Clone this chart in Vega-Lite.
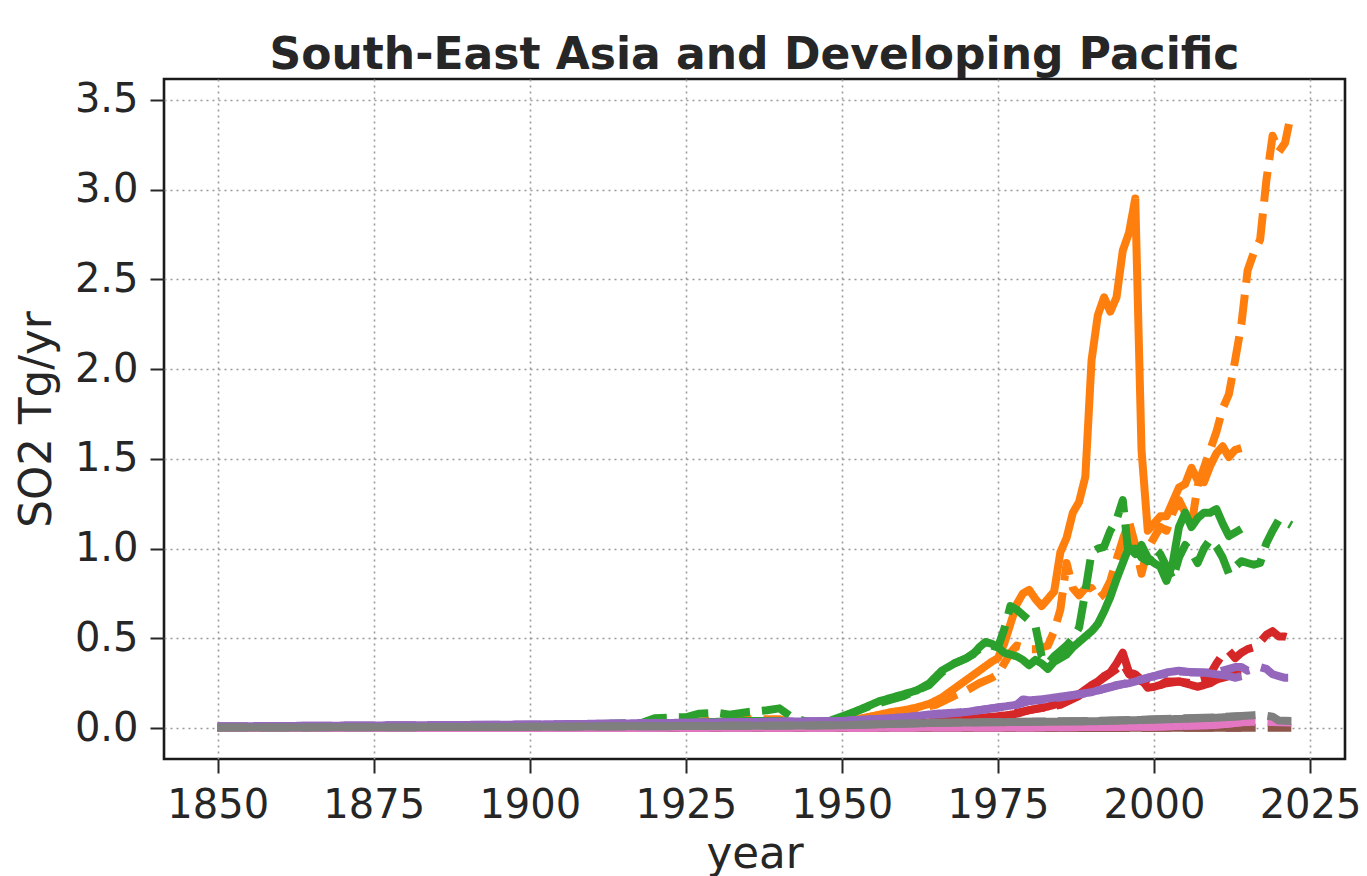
{
  "$schema": "https://vega.github.io/schema/vega-lite/v6.json",
  "width": 1181,
  "height": 680,
  "autosize": {"type": "none"},
  "padding": {"left": 164, "top": 79, "right": 22, "bottom": 117},
  "background": "white",
  "title": {
    "text": "South-East Asia and Developing Pacific",
    "font": "DejaVu Sans",
    "fontSize": 44,
    "fontWeight": "bold",
    "color": "#262626",
    "anchor": "middle",
    "baseline": "alphabetic",
    "offset": 15,
    "dy": 49
  },
  "config": {
    "view": {"stroke": "#1a1a1a", "strokeWidth": 2.6},
    "font": "DejaVu Sans"
  },
  "data": {
    "values": [
      {"sector":"Energy","version":"old","year":1850,"so2":0.003},
      {"sector":"Energy","version":"old","year":1875,"so2":0.005},
      {"sector":"Energy","version":"old","year":1900,"so2":0.008},
      {"sector":"Energy","version":"old","year":1910,"so2":0.01},
      {"sector":"Energy","version":"old","year":1920,"so2":0.015},
      {"sector":"Energy","version":"old","year":1930,"so2":0.025},
      {"sector":"Energy","version":"old","year":1940,"so2":0.03},
      {"sector":"Energy","version":"old","year":1945,"so2":0.02},
      {"sector":"Energy","version":"old","year":1950,"so2":0.03},
      {"sector":"Energy","version":"old","year":1952,"so2":0.045},
      {"sector":"Energy","version":"old","year":1954,"so2":0.06},
      {"sector":"Energy","version":"old","year":1956,"so2":0.075},
      {"sector":"Energy","version":"old","year":1958,"so2":0.09},
      {"sector":"Energy","version":"old","year":1960,"so2":0.1},
      {"sector":"Energy","version":"old","year":1962,"so2":0.115},
      {"sector":"Energy","version":"old","year":1964,"so2":0.135},
      {"sector":"Energy","version":"old","year":1966,"so2":0.17},
      {"sector":"Energy","version":"old","year":1968,"so2":0.22},
      {"sector":"Energy","version":"old","year":1970,"so2":0.27},
      {"sector":"Energy","version":"old","year":1972,"so2":0.32},
      {"sector":"Energy","version":"old","year":1974,"so2":0.37},
      {"sector":"Energy","version":"old","year":1975,"so2":0.39},
      {"sector":"Energy","version":"old","year":1976,"so2":0.47},
      {"sector":"Energy","version":"old","year":1977,"so2":0.58},
      {"sector":"Energy","version":"old","year":1978,"so2":0.69},
      {"sector":"Energy","version":"old","year":1979,"so2":0.75},
      {"sector":"Energy","version":"old","year":1980,"so2":0.77},
      {"sector":"Energy","version":"old","year":1981,"so2":0.72},
      {"sector":"Energy","version":"old","year":1982,"so2":0.68},
      {"sector":"Energy","version":"old","year":1983,"so2":0.72},
      {"sector":"Energy","version":"old","year":1984,"so2":0.76},
      {"sector":"Energy","version":"old","year":1985,"so2":0.98},
      {"sector":"Energy","version":"old","year":1986,"so2":1.06},
      {"sector":"Energy","version":"old","year":1987,"so2":1.2},
      {"sector":"Energy","version":"old","year":1988,"so2":1.26},
      {"sector":"Energy","version":"old","year":1989,"so2":1.4},
      {"sector":"Energy","version":"old","year":1990,"so2":2.05},
      {"sector":"Energy","version":"old","year":1991,"so2":2.3},
      {"sector":"Energy","version":"old","year":1992,"so2":2.4},
      {"sector":"Energy","version":"old","year":1993,"so2":2.32},
      {"sector":"Energy","version":"old","year":1994,"so2":2.4},
      {"sector":"Energy","version":"old","year":1995,"so2":2.66},
      {"sector":"Energy","version":"old","year":1996,"so2":2.76},
      {"sector":"Energy","version":"old","year":1997,"so2":2.95},
      {"sector":"Energy","version":"old","year":1998,"so2":1.55},
      {"sector":"Energy","version":"old","year":1999,"so2":1.1},
      {"sector":"Energy","version":"old","year":2000,"so2":1.14},
      {"sector":"Energy","version":"old","year":2001,"so2":1.18},
      {"sector":"Energy","version":"old","year":2002,"so2":1.18},
      {"sector":"Energy","version":"old","year":2003,"so2":1.26},
      {"sector":"Energy","version":"old","year":2004,"so2":1.34},
      {"sector":"Energy","version":"old","year":2005,"so2":1.36},
      {"sector":"Energy","version":"old","year":2006,"so2":1.45},
      {"sector":"Energy","version":"old","year":2007,"so2":1.38},
      {"sector":"Energy","version":"old","year":2008,"so2":1.37},
      {"sector":"Energy","version":"old","year":2009,"so2":1.46},
      {"sector":"Energy","version":"old","year":2010,"so2":1.53},
      {"sector":"Energy","version":"old","year":2011,"so2":1.57},
      {"sector":"Energy","version":"old","year":2012,"so2":1.51},
      {"sector":"Energy","version":"old","year":2013,"so2":1.55},
      {"sector":"Energy","version":"old","year":2014,"so2":1.56},

      {"sector":"Energy","version":"new","year":1850,"so2":0.003},
      {"sector":"Energy","version":"new","year":1875,"so2":0.005},
      {"sector":"Energy","version":"new","year":1900,"so2":0.008},
      {"sector":"Energy","version":"new","year":1910,"so2":0.012},
      {"sector":"Energy","version":"new","year":1920,"so2":0.02},
      {"sector":"Energy","version":"new","year":1925,"so2":0.03},
      {"sector":"Energy","version":"new","year":1930,"so2":0.045},
      {"sector":"Energy","version":"new","year":1935,"so2":0.05},
      {"sector":"Energy","version":"new","year":1940,"so2":0.05},
      {"sector":"Energy","version":"new","year":1942,"so2":0.03},
      {"sector":"Energy","version":"new","year":1945,"so2":0.02},
      {"sector":"Energy","version":"new","year":1950,"so2":0.035},
      {"sector":"Energy","version":"new","year":1955,"so2":0.065},
      {"sector":"Energy","version":"new","year":1960,"so2":0.095},
      {"sector":"Energy","version":"new","year":1965,"so2":0.13},
      {"sector":"Energy","version":"new","year":1968,"so2":0.18},
      {"sector":"Energy","version":"new","year":1970,"so2":0.21},
      {"sector":"Energy","version":"new","year":1972,"so2":0.25},
      {"sector":"Energy","version":"new","year":1974,"so2":0.28},
      {"sector":"Energy","version":"new","year":1975,"so2":0.3},
      {"sector":"Energy","version":"new","year":1976,"so2":0.36},
      {"sector":"Energy","version":"new","year":1977,"so2":0.42},
      {"sector":"Energy","version":"new","year":1978,"so2":0.46},
      {"sector":"Energy","version":"new","year":1979,"so2":0.45},
      {"sector":"Energy","version":"new","year":1980,"so2":0.44},
      {"sector":"Energy","version":"new","year":1981,"so2":0.44},
      {"sector":"Energy","version":"new","year":1982,"so2":0.45},
      {"sector":"Energy","version":"new","year":1983,"so2":0.46},
      {"sector":"Energy","version":"new","year":1984,"so2":0.54},
      {"sector":"Energy","version":"new","year":1985,"so2":0.66},
      {"sector":"Energy","version":"new","year":1986,"so2":0.92},
      {"sector":"Energy","version":"new","year":1987,"so2":0.78},
      {"sector":"Energy","version":"new","year":1988,"so2":0.74},
      {"sector":"Energy","version":"new","year":1989,"so2":0.78},
      {"sector":"Energy","version":"new","year":1990,"so2":0.78},
      {"sector":"Energy","version":"new","year":1991,"so2":0.72},
      {"sector":"Energy","version":"new","year":1992,"so2":0.75},
      {"sector":"Energy","version":"new","year":1993,"so2":0.82},
      {"sector":"Energy","version":"new","year":1994,"so2":0.94},
      {"sector":"Energy","version":"new","year":1995,"so2":1.05},
      {"sector":"Energy","version":"new","year":1996,"so2":1.15},
      {"sector":"Energy","version":"new","year":1997,"so2":1.02},
      {"sector":"Energy","version":"new","year":1998,"so2":0.86},
      {"sector":"Energy","version":"new","year":1999,"so2":1.0},
      {"sector":"Energy","version":"new","year":2000,"so2":1.06},
      {"sector":"Energy","version":"new","year":2001,"so2":1.12},
      {"sector":"Energy","version":"new","year":2002,"so2":1.1},
      {"sector":"Energy","version":"new","year":2003,"so2":1.2},
      {"sector":"Energy","version":"new","year":2004,"so2":1.27},
      {"sector":"Energy","version":"new","year":2005,"so2":1.2},
      {"sector":"Energy","version":"new","year":2006,"so2":1.13},
      {"sector":"Energy","version":"new","year":2007,"so2":1.35},
      {"sector":"Energy","version":"new","year":2008,"so2":1.45},
      {"sector":"Energy","version":"new","year":2009,"so2":1.55},
      {"sector":"Energy","version":"new","year":2010,"so2":1.65},
      {"sector":"Energy","version":"new","year":2011,"so2":1.78},
      {"sector":"Energy","version":"new","year":2012,"so2":1.86},
      {"sector":"Energy","version":"new","year":2013,"so2":2.05},
      {"sector":"Energy","version":"new","year":2014,"so2":2.25},
      {"sector":"Energy","version":"new","year":2015,"so2":2.55},
      {"sector":"Energy","version":"new","year":2016,"so2":2.65},
      {"sector":"Energy","version":"new","year":2017,"so2":2.72},
      {"sector":"Energy","version":"new","year":2018,"so2":3.05},
      {"sector":"Energy","version":"new","year":2019,"so2":3.3},
      {"sector":"Energy","version":"new","year":2020,"so2":3.21},
      {"sector":"Energy","version":"new","year":2021,"so2":3.26},
      {"sector":"Energy","version":"new","year":2022,"so2":3.43},

      {"sector":"Industrial","version":"old","year":1850,"so2":0.003},
      {"sector":"Industrial","version":"old","year":1900,"so2":0.008},
      {"sector":"Industrial","version":"old","year":1920,"so2":0.02},
      {"sector":"Industrial","version":"old","year":1925,"so2":0.03},
      {"sector":"Industrial","version":"old","year":1930,"so2":0.035},
      {"sector":"Industrial","version":"old","year":1935,"so2":0.04},
      {"sector":"Industrial","version":"old","year":1940,"so2":0.04},
      {"sector":"Industrial","version":"old","year":1945,"so2":0.025},
      {"sector":"Industrial","version":"old","year":1948,"so2":0.04},
      {"sector":"Industrial","version":"old","year":1950,"so2":0.065},
      {"sector":"Industrial","version":"old","year":1952,"so2":0.09},
      {"sector":"Industrial","version":"old","year":1954,"so2":0.12},
      {"sector":"Industrial","version":"old","year":1956,"so2":0.15},
      {"sector":"Industrial","version":"old","year":1958,"so2":0.17},
      {"sector":"Industrial","version":"old","year":1960,"so2":0.19},
      {"sector":"Industrial","version":"old","year":1962,"so2":0.21},
      {"sector":"Industrial","version":"old","year":1964,"so2":0.25},
      {"sector":"Industrial","version":"old","year":1966,"so2":0.32},
      {"sector":"Industrial","version":"old","year":1968,"so2":0.36},
      {"sector":"Industrial","version":"old","year":1970,"so2":0.39},
      {"sector":"Industrial","version":"old","year":1971,"so2":0.41},
      {"sector":"Industrial","version":"old","year":1972,"so2":0.45},
      {"sector":"Industrial","version":"old","year":1973,"so2":0.48},
      {"sector":"Industrial","version":"old","year":1974,"so2":0.47},
      {"sector":"Industrial","version":"old","year":1975,"so2":0.45},
      {"sector":"Industrial","version":"old","year":1976,"so2":0.42},
      {"sector":"Industrial","version":"old","year":1977,"so2":0.41},
      {"sector":"Industrial","version":"old","year":1978,"so2":0.4},
      {"sector":"Industrial","version":"old","year":1979,"so2":0.38},
      {"sector":"Industrial","version":"old","year":1980,"so2":0.35},
      {"sector":"Industrial","version":"old","year":1981,"so2":0.38},
      {"sector":"Industrial","version":"old","year":1982,"so2":0.36},
      {"sector":"Industrial","version":"old","year":1983,"so2":0.33},
      {"sector":"Industrial","version":"old","year":1984,"so2":0.37},
      {"sector":"Industrial","version":"old","year":1985,"so2":0.39},
      {"sector":"Industrial","version":"old","year":1986,"so2":0.41},
      {"sector":"Industrial","version":"old","year":1987,"so2":0.45},
      {"sector":"Industrial","version":"old","year":1988,"so2":0.48},
      {"sector":"Industrial","version":"old","year":1989,"so2":0.51},
      {"sector":"Industrial","version":"old","year":1990,"so2":0.54},
      {"sector":"Industrial","version":"old","year":1991,"so2":0.58},
      {"sector":"Industrial","version":"old","year":1992,"so2":0.65},
      {"sector":"Industrial","version":"old","year":1993,"so2":0.73},
      {"sector":"Industrial","version":"old","year":1994,"so2":0.83},
      {"sector":"Industrial","version":"old","year":1995,"so2":0.92},
      {"sector":"Industrial","version":"old","year":1996,"so2":1.01},
      {"sector":"Industrial","version":"old","year":1997,"so2":0.97},
      {"sector":"Industrial","version":"old","year":1998,"so2":1.02},
      {"sector":"Industrial","version":"old","year":1999,"so2":0.95},
      {"sector":"Industrial","version":"old","year":2000,"so2":0.92},
      {"sector":"Industrial","version":"old","year":2001,"so2":0.9},
      {"sector":"Industrial","version":"old","year":2002,"so2":0.82},
      {"sector":"Industrial","version":"old","year":2003,"so2":0.92},
      {"sector":"Industrial","version":"old","year":2004,"so2":1.12},
      {"sector":"Industrial","version":"old","year":2005,"so2":1.2},
      {"sector":"Industrial","version":"old","year":2006,"so2":1.12},
      {"sector":"Industrial","version":"old","year":2007,"so2":1.17},
      {"sector":"Industrial","version":"old","year":2008,"so2":1.2},
      {"sector":"Industrial","version":"old","year":2009,"so2":1.2},
      {"sector":"Industrial","version":"old","year":2010,"so2":1.22},
      {"sector":"Industrial","version":"old","year":2011,"so2":1.14},
      {"sector":"Industrial","version":"old","year":2012,"so2":1.07},
      {"sector":"Industrial","version":"old","year":2013,"so2":1.09},
      {"sector":"Industrial","version":"old","year":2014,"so2":1.11},

      {"sector":"Industrial","version":"new","year":1850,"so2":0.003},
      {"sector":"Industrial","version":"new","year":1900,"so2":0.01},
      {"sector":"Industrial","version":"new","year":1918,"so2":0.03},
      {"sector":"Industrial","version":"new","year":1920,"so2":0.055},
      {"sector":"Industrial","version":"new","year":1923,"so2":0.06},
      {"sector":"Industrial","version":"new","year":1925,"so2":0.06},
      {"sector":"Industrial","version":"new","year":1927,"so2":0.08},
      {"sector":"Industrial","version":"new","year":1930,"so2":0.085},
      {"sector":"Industrial","version":"new","year":1932,"so2":0.075},
      {"sector":"Industrial","version":"new","year":1935,"so2":0.09},
      {"sector":"Industrial","version":"new","year":1938,"so2":0.1},
      {"sector":"Industrial","version":"new","year":1940,"so2":0.11},
      {"sector":"Industrial","version":"new","year":1942,"so2":0.06},
      {"sector":"Industrial","version":"new","year":1945,"so2":0.03},
      {"sector":"Industrial","version":"new","year":1948,"so2":0.04},
      {"sector":"Industrial","version":"new","year":1950,"so2":0.06},
      {"sector":"Industrial","version":"new","year":1952,"so2":0.09},
      {"sector":"Industrial","version":"new","year":1955,"so2":0.13},
      {"sector":"Industrial","version":"new","year":1958,"so2":0.16},
      {"sector":"Industrial","version":"new","year":1960,"so2":0.18},
      {"sector":"Industrial","version":"new","year":1962,"so2":0.21},
      {"sector":"Industrial","version":"new","year":1964,"so2":0.24},
      {"sector":"Industrial","version":"new","year":1966,"so2":0.31},
      {"sector":"Industrial","version":"new","year":1968,"so2":0.36},
      {"sector":"Industrial","version":"new","year":1970,"so2":0.39},
      {"sector":"Industrial","version":"new","year":1972,"so2":0.44},
      {"sector":"Industrial","version":"new","year":1974,"so2":0.46},
      {"sector":"Industrial","version":"new","year":1975,"so2":0.45},
      {"sector":"Industrial","version":"new","year":1976,"so2":0.55},
      {"sector":"Industrial","version":"new","year":1977,"so2":0.68},
      {"sector":"Industrial","version":"new","year":1978,"so2":0.66},
      {"sector":"Industrial","version":"new","year":1979,"so2":0.63},
      {"sector":"Industrial","version":"new","year":1980,"so2":0.6},
      {"sector":"Industrial","version":"new","year":1981,"so2":0.57},
      {"sector":"Industrial","version":"new","year":1982,"so2":0.4},
      {"sector":"Industrial","version":"new","year":1983,"so2":0.36},
      {"sector":"Industrial","version":"new","year":1984,"so2":0.4},
      {"sector":"Industrial","version":"new","year":1985,"so2":0.43},
      {"sector":"Industrial","version":"new","year":1986,"so2":0.46},
      {"sector":"Industrial","version":"new","year":1987,"so2":0.5},
      {"sector":"Industrial","version":"new","year":1988,"so2":0.56},
      {"sector":"Industrial","version":"new","year":1989,"so2":0.76},
      {"sector":"Industrial","version":"new","year":1990,"so2":0.98},
      {"sector":"Industrial","version":"new","year":1991,"so2":1.0},
      {"sector":"Industrial","version":"new","year":1992,"so2":1.01},
      {"sector":"Industrial","version":"new","year":1993,"so2":1.1},
      {"sector":"Industrial","version":"new","year":1994,"so2":1.16},
      {"sector":"Industrial","version":"new","year":1995,"so2":1.27},
      {"sector":"Industrial","version":"new","year":1996,"so2":0.94},
      {"sector":"Industrial","version":"new","year":1997,"so2":1.0},
      {"sector":"Industrial","version":"new","year":1998,"so2":0.95},
      {"sector":"Industrial","version":"new","year":1999,"so2":0.93},
      {"sector":"Industrial","version":"new","year":2000,"so2":1.0},
      {"sector":"Industrial","version":"new","year":2001,"so2":0.97},
      {"sector":"Industrial","version":"new","year":2002,"so2":0.9},
      {"sector":"Industrial","version":"new","year":2003,"so2":0.83},
      {"sector":"Industrial","version":"new","year":2004,"so2":0.95},
      {"sector":"Industrial","version":"new","year":2005,"so2":1.02},
      {"sector":"Industrial","version":"new","year":2006,"so2":0.98},
      {"sector":"Industrial","version":"new","year":2007,"so2":0.92},
      {"sector":"Industrial","version":"new","year":2008,"so2":1.0},
      {"sector":"Industrial","version":"new","year":2009,"so2":1.05},
      {"sector":"Industrial","version":"new","year":2010,"so2":1.01},
      {"sector":"Industrial","version":"new","year":2011,"so2":0.95},
      {"sector":"Industrial","version":"new","year":2012,"so2":0.86},
      {"sector":"Industrial","version":"new","year":2013,"so2":0.9},
      {"sector":"Industrial","version":"new","year":2014,"so2":0.93},
      {"sector":"Industrial","version":"new","year":2015,"so2":0.92},
      {"sector":"Industrial","version":"new","year":2016,"so2":0.91},
      {"sector":"Industrial","version":"new","year":2017,"so2":0.92},
      {"sector":"Industrial","version":"new","year":2018,"so2":1.03},
      {"sector":"Industrial","version":"new","year":2019,"so2":1.1},
      {"sector":"Industrial","version":"new","year":2020,"so2":1.16},
      {"sector":"Industrial","version":"new","year":2021,"so2":1.15},
      {"sector":"Industrial","version":"new","year":2022,"so2":1.13},

      {"sector":"Transportation","version":"old","year":1850,"so2":0.0},
      {"sector":"Transportation","version":"old","year":1900,"so2":0.002},
      {"sector":"Transportation","version":"old","year":1950,"so2":0.01},
      {"sector":"Transportation","version":"old","year":1955,"so2":0.015},
      {"sector":"Transportation","version":"old","year":1960,"so2":0.02},
      {"sector":"Transportation","version":"old","year":1965,"so2":0.035},
      {"sector":"Transportation","version":"old","year":1970,"so2":0.05},
      {"sector":"Transportation","version":"old","year":1975,"so2":0.065},
      {"sector":"Transportation","version":"old","year":1978,"so2":0.08},
      {"sector":"Transportation","version":"old","year":1980,"so2":0.1},
      {"sector":"Transportation","version":"old","year":1983,"so2":0.12},
      {"sector":"Transportation","version":"old","year":1986,"so2":0.15},
      {"sector":"Transportation","version":"old","year":1988,"so2":0.19},
      {"sector":"Transportation","version":"old","year":1990,"so2":0.24},
      {"sector":"Transportation","version":"old","year":1991,"so2":0.26},
      {"sector":"Transportation","version":"old","year":1992,"so2":0.29},
      {"sector":"Transportation","version":"old","year":1993,"so2":0.31},
      {"sector":"Transportation","version":"old","year":1994,"so2":0.36},
      {"sector":"Transportation","version":"old","year":1995,"so2":0.42},
      {"sector":"Transportation","version":"old","year":1996,"so2":0.31},
      {"sector":"Transportation","version":"old","year":1997,"so2":0.3},
      {"sector":"Transportation","version":"old","year":1998,"so2":0.27},
      {"sector":"Transportation","version":"old","year":1999,"so2":0.225},
      {"sector":"Transportation","version":"old","year":2000,"so2":0.23},
      {"sector":"Transportation","version":"old","year":2001,"so2":0.24},
      {"sector":"Transportation","version":"old","year":2002,"so2":0.26},
      {"sector":"Transportation","version":"old","year":2003,"so2":0.26},
      {"sector":"Transportation","version":"old","year":2004,"so2":0.26},
      {"sector":"Transportation","version":"old","year":2005,"so2":0.25},
      {"sector":"Transportation","version":"old","year":2006,"so2":0.24},
      {"sector":"Transportation","version":"old","year":2007,"so2":0.23},
      {"sector":"Transportation","version":"old","year":2008,"so2":0.24},
      {"sector":"Transportation","version":"old","year":2009,"so2":0.25},
      {"sector":"Transportation","version":"old","year":2010,"so2":0.27},
      {"sector":"Transportation","version":"old","year":2011,"so2":0.28},
      {"sector":"Transportation","version":"old","year":2012,"so2":0.29},
      {"sector":"Transportation","version":"old","year":2013,"so2":0.3},
      {"sector":"Transportation","version":"old","year":2014,"so2":0.3},

      {"sector":"Transportation","version":"new","year":1850,"so2":0.0},
      {"sector":"Transportation","version":"new","year":1900,"so2":0.002},
      {"sector":"Transportation","version":"new","year":1950,"so2":0.01},
      {"sector":"Transportation","version":"new","year":1960,"so2":0.02},
      {"sector":"Transportation","version":"new","year":1970,"so2":0.05},
      {"sector":"Transportation","version":"new","year":1975,"so2":0.065},
      {"sector":"Transportation","version":"new","year":1980,"so2":0.1},
      {"sector":"Transportation","version":"new","year":1985,"so2":0.13},
      {"sector":"Transportation","version":"new","year":1988,"so2":0.18},
      {"sector":"Transportation","version":"new","year":1990,"so2":0.23},
      {"sector":"Transportation","version":"new","year":1992,"so2":0.28},
      {"sector":"Transportation","version":"new","year":1994,"so2":0.33},
      {"sector":"Transportation","version":"new","year":1995,"so2":0.36},
      {"sector":"Transportation","version":"new","year":1996,"so2":0.3},
      {"sector":"Transportation","version":"new","year":1998,"so2":0.26},
      {"sector":"Transportation","version":"new","year":2000,"so2":0.23},
      {"sector":"Transportation","version":"new","year":2002,"so2":0.25},
      {"sector":"Transportation","version":"new","year":2004,"so2":0.26},
      {"sector":"Transportation","version":"new","year":2006,"so2":0.25},
      {"sector":"Transportation","version":"new","year":2008,"so2":0.27},
      {"sector":"Transportation","version":"new","year":2009,"so2":0.3},
      {"sector":"Transportation","version":"new","year":2010,"so2":0.36},
      {"sector":"Transportation","version":"new","year":2011,"so2":0.41},
      {"sector":"Transportation","version":"new","year":2012,"so2":0.43},
      {"sector":"Transportation","version":"new","year":2013,"so2":0.39},
      {"sector":"Transportation","version":"new","year":2014,"so2":0.42},
      {"sector":"Transportation","version":"new","year":2015,"so2":0.44},
      {"sector":"Transportation","version":"new","year":2016,"so2":0.45},
      {"sector":"Transportation","version":"new","year":2017,"so2":0.48},
      {"sector":"Transportation","version":"new","year":2018,"so2":0.52},
      {"sector":"Transportation","version":"new","year":2019,"so2":0.54},
      {"sector":"Transportation","version":"new","year":2020,"so2":0.51},
      {"sector":"Transportation","version":"new","year":2021,"so2":0.51},
      {"sector":"Transportation","version":"new","year":2022,"so2":0.5},

      {"sector":"Residential","version":"old","year":1850,"so2":0.01},
      {"sector":"Residential","version":"old","year":1875,"so2":0.015},
      {"sector":"Residential","version":"old","year":1900,"so2":0.02},
      {"sector":"Residential","version":"old","year":1925,"so2":0.03},
      {"sector":"Residential","version":"old","year":1950,"so2":0.04},
      {"sector":"Residential","version":"old","year":1955,"so2":0.05},
      {"sector":"Residential","version":"old","year":1960,"so2":0.06},
      {"sector":"Residential","version":"old","year":1965,"so2":0.08},
      {"sector":"Residential","version":"old","year":1970,"so2":0.09},
      {"sector":"Residential","version":"old","year":1975,"so2":0.115},
      {"sector":"Residential","version":"old","year":1978,"so2":0.13},
      {"sector":"Residential","version":"old","year":1979,"so2":0.16},
      {"sector":"Residential","version":"old","year":1980,"so2":0.155},
      {"sector":"Residential","version":"old","year":1982,"so2":0.16},
      {"sector":"Residential","version":"old","year":1985,"so2":0.175},
      {"sector":"Residential","version":"old","year":1988,"so2":0.19},
      {"sector":"Residential","version":"old","year":1990,"so2":0.2},
      {"sector":"Residential","version":"old","year":1992,"so2":0.22},
      {"sector":"Residential","version":"old","year":1994,"so2":0.24},
      {"sector":"Residential","version":"old","year":1996,"so2":0.25},
      {"sector":"Residential","version":"old","year":1998,"so2":0.27},
      {"sector":"Residential","version":"old","year":2000,"so2":0.29},
      {"sector":"Residential","version":"old","year":2002,"so2":0.31},
      {"sector":"Residential","version":"old","year":2004,"so2":0.32},
      {"sector":"Residential","version":"old","year":2006,"so2":0.31},
      {"sector":"Residential","version":"old","year":2008,"so2":0.31},
      {"sector":"Residential","version":"old","year":2010,"so2":0.3},
      {"sector":"Residential","version":"old","year":2012,"so2":0.29},
      {"sector":"Residential","version":"old","year":2013,"so2":0.28},
      {"sector":"Residential","version":"old","year":2014,"so2":0.29},

      {"sector":"Residential","version":"new","year":1850,"so2":0.01},
      {"sector":"Residential","version":"new","year":1875,"so2":0.015},
      {"sector":"Residential","version":"new","year":1900,"so2":0.02},
      {"sector":"Residential","version":"new","year":1925,"so2":0.03},
      {"sector":"Residential","version":"new","year":1950,"so2":0.04},
      {"sector":"Residential","version":"new","year":1960,"so2":0.06},
      {"sector":"Residential","version":"new","year":1970,"so2":0.09},
      {"sector":"Residential","version":"new","year":1975,"so2":0.115},
      {"sector":"Residential","version":"new","year":1978,"so2":0.13},
      {"sector":"Residential","version":"new","year":1980,"so2":0.15},
      {"sector":"Residential","version":"new","year":1985,"so2":0.17},
      {"sector":"Residential","version":"new","year":1990,"so2":0.2},
      {"sector":"Residential","version":"new","year":1995,"so2":0.245},
      {"sector":"Residential","version":"new","year":2000,"so2":0.29},
      {"sector":"Residential","version":"new","year":2004,"so2":0.315},
      {"sector":"Residential","version":"new","year":2008,"so2":0.31},
      {"sector":"Residential","version":"new","year":2010,"so2":0.31},
      {"sector":"Residential","version":"new","year":2012,"so2":0.33},
      {"sector":"Residential","version":"new","year":2013,"so2":0.34},
      {"sector":"Residential","version":"new","year":2014,"so2":0.34},
      {"sector":"Residential","version":"new","year":2015,"so2":0.32},
      {"sector":"Residential","version":"new","year":2016,"so2":0.33},
      {"sector":"Residential","version":"new","year":2017,"so2":0.34},
      {"sector":"Residential","version":"new","year":2018,"so2":0.33},
      {"sector":"Residential","version":"new","year":2019,"so2":0.3},
      {"sector":"Residential","version":"new","year":2020,"so2":0.29},
      {"sector":"Residential","version":"new","year":2021,"so2":0.28},
      {"sector":"Residential","version":"new","year":2022,"so2":0.28},

      {"sector":"Solvents","version":"old","year":1850,"so2":0.0},
      {"sector":"Solvents","version":"old","year":1950,"so2":0.0},
      {"sector":"Solvents","version":"old","year":2014,"so2":0.002},
      {"sector":"Solvents","version":"new","year":1850,"so2":0.0},
      {"sector":"Solvents","version":"new","year":1950,"so2":0.0},
      {"sector":"Solvents","version":"new","year":2022,"so2":0.002},

      {"sector":"Waste","version":"old","year":1850,"so2":0.0},
      {"sector":"Waste","version":"old","year":1950,"so2":0.002},
      {"sector":"Waste","version":"old","year":1980,"so2":0.004},
      {"sector":"Waste","version":"old","year":2000,"so2":0.008},
      {"sector":"Waste","version":"old","year":2010,"so2":0.018},
      {"sector":"Waste","version":"old","year":2014,"so2":0.033},
      {"sector":"Waste","version":"new","year":1850,"so2":0.0},
      {"sector":"Waste","version":"new","year":1950,"so2":0.002},
      {"sector":"Waste","version":"new","year":1980,"so2":0.004},
      {"sector":"Waste","version":"new","year":2000,"so2":0.008},
      {"sector":"Waste","version":"new","year":2010,"so2":0.018},
      {"sector":"Waste","version":"new","year":2014,"so2":0.033},
      {"sector":"Waste","version":"new","year":2016,"so2":0.035},
      {"sector":"Waste","version":"new","year":2022,"so2":0.032},

      {"sector":"Shipping","version":"old","year":1850,"so2":0.003},
      {"sector":"Shipping","version":"old","year":1900,"so2":0.007},
      {"sector":"Shipping","version":"old","year":1950,"so2":0.016},
      {"sector":"Shipping","version":"old","year":1966,"so2":0.03},
      {"sector":"Shipping","version":"old","year":1990,"so2":0.038},
      {"sector":"Shipping","version":"old","year":2000,"so2":0.047},
      {"sector":"Shipping","version":"old","year":2005,"so2":0.052},
      {"sector":"Shipping","version":"old","year":2010,"so2":0.058},
      {"sector":"Shipping","version":"old","year":2014,"so2":0.066},
      {"sector":"Shipping","version":"new","year":1850,"so2":0.003},
      {"sector":"Shipping","version":"new","year":1900,"so2":0.007},
      {"sector":"Shipping","version":"new","year":1950,"so2":0.016},
      {"sector":"Shipping","version":"new","year":1966,"so2":0.03},
      {"sector":"Shipping","version":"new","year":1990,"so2":0.04},
      {"sector":"Shipping","version":"new","year":2000,"so2":0.049},
      {"sector":"Shipping","version":"new","year":2005,"so2":0.055},
      {"sector":"Shipping","version":"new","year":2010,"so2":0.06},
      {"sector":"Shipping","version":"new","year":2014,"so2":0.068},
      {"sector":"Shipping","version":"new","year":2016,"so2":0.072},
      {"sector":"Shipping","version":"new","year":2017,"so2":0.074},
      {"sector":"Shipping","version":"new","year":2019,"so2":0.064},
      {"sector":"Shipping","version":"new","year":2020,"so2":0.042},
      {"sector":"Shipping","version":"new","year":2022,"so2":0.04}
    ]
  },
  "mark": {"type": "line", "strokeWidth": 8, "strokeCap": "butt", "strokeJoin": "round", "clip": true},
  "encoding": {
    "x": {
      "field": "year",
      "type": "quantitative",
      "scale": {"domain": [1841.4, 2030.6], "nice": false, "zero": false},
      "axis": {
        "title": "year",
        "values": [1850, 1875, 1900, 1925, 1950, 1975, 2000, 2025],
        "format": "d",
        "labelFont": "DejaVu Sans",
        "labelFontSize": 40,
        "labelColor": "#262626",
        "labelPadding": 12,
        "labelFlush": false,
        "labelOverlap": false,
        "tickSize": 14,
        "tickWidth": 2,
        "tickColor": "#262626",
        "domain": false,
        "grid": true,
        "gridDash": [2, 4],
        "gridColor": "#999999",
        "gridWidth": 1.6,
        "titleFont": "DejaVu Sans",
        "titleFontSize": 43.6,
        "titleFontWeight": "normal",
        "titleColor": "#262626",
        "titleBaseline": "alphabetic",
        "titleY": 108
      }
    },
    "y": {
      "field": "so2",
      "type": "quantitative",
      "scale": {"domain": [-0.172, 3.616], "nice": false, "zero": false},
      "axis": {
        "title": "SO2 Tg/yr",
        "values": [0, 0.5, 1, 1.5, 2, 2.5, 3, 3.5],
        "format": ".1f",
        "labelFont": "DejaVu Sans",
        "labelFontSize": 40,
        "labelColor": "#262626",
        "labelPadding": 12,
        "labelFlush": false,
        "labelOverlap": false,
        "tickSize": 14,
        "tickWidth": 2,
        "tickColor": "#262626",
        "domain": false,
        "grid": true,
        "gridDash": [2, 4],
        "gridColor": "#999999",
        "gridWidth": 1.6,
        "titleFont": "DejaVu Sans",
        "titleFontSize": 43.6,
        "titleFontWeight": "normal",
        "titleColor": "#262626",
        "titleAngle": -90,
        "titleBaseline": "alphabetic",
        "titleAlign": "center",
        "titleX": -114,
        "titleY": 340
      }
    },
    "color": {
      "field": "sector",
      "type": "nominal",
      "sort": null,
      "scale": {
        "domain": ["Energy", "Industrial", "Transportation", "Residential", "Solvents", "Waste", "Shipping"],
        "range": ["#ff7f0e", "#2ca02c", "#d62728", "#9467bd", "#8c564b", "#e377c2", "#7f7f7f"]
      },
      "legend": null
    },
    "strokeDash": {
      "field": "version",
      "type": "nominal",
      "scale": {"domain": ["old", "new"], "range": [[1, 0], [30, 12]]},
      "legend": null
    }
  }
}
